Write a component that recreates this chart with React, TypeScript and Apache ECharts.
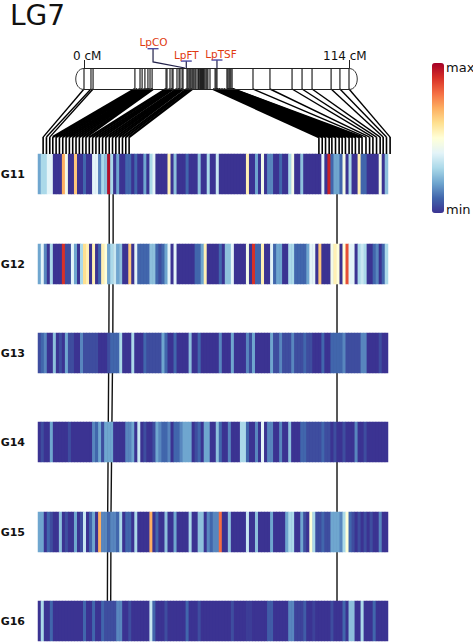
import React, { useEffect, useRef } from "react";
import * as echarts from "echarts";

const rowNames = ["G11", "G12", "G13", "G14", "G15", "G16"];

const g11 = [
  2, 3, 3, 4, 4, 0, 0, 0, 7, 4.5,
  0, 0, 6.5, 0, 0, 1, 0, 0, 4, 4,
  1.5, 3, 2.5, 9.7, 3, 0, 2, 0, 0, 1,
  1, 0, 1, 0, 0, 2, 0, 3, 4, 0,
  0, 0, 0, 5.5, 0, 2.5, 0, 0, 0, 1,
  0, 0, 0, 2.5, 0, 0, 3, 0, 0, 3.5,
  0, 0, 0, 0, 0, 0, 0, 0, 0, 5.5,
  0, 0, 2, 0, 4.5, 0, 1.5, 1.5, 0, 0,
  1, 0, 0, 3, 4.5, 0, 0, 2.5, 0, 0,
  0, 0, 0, 0, 4, 0, 9.3, 1, 2, 2,
  1, 4.5, 0, 3, 0, 0, 5.5, 1, 1, 0,
  0, 0, 0, 4.5, 0, 2.5,
];
const g12 = [
  2, 4, 1.5, 0, 3, 0, 0, 0, 9, 0.5,
  0.5, 4, 2, 0, 3, 6, 5.5, 0, 5.5, 0,
  1, 5.5, 5, 2, 3, 3.5, 2, 2.5, 0, 0,
  6.5, 0, 4, 1, 1, 1, 1, 2.5, 2.5, 1,
  0.5, 1, 2, 4, 0, 4, 0, 0, 0, 0,
  0, 0, 1, 1, 2, 5.5, 0, 0, 0, 0,
  1, 0, 2.5, 2.5, 4, 0, 0, 0, 0, 4.5,
  0, 9, 1, 1, 5.5, 0, 0, 4, 1, 2,
  2, 0, 0, 3, 3, 1, 1, 1, 1, 2,
  4, 4, 0, 6.5, 0, 0, 0, 4.5, 5.5, 5,
  0, 5, 8.5, 4, 4, 0, 3, 3.5, 3, 0,
  0, 1, 1.5, 0, 1, 3,
];
const g13 = [
  0.5, 1, 1.5, 0, 0, 2.5, 0, 0.5, 0, 2,
  0.5, 0.5, 0, 0, 1.5, 0.5, 0.5, 0.5, 0.5, 0.5,
  0, 0, 0, 0.5, 1, 1, 1, 3, 0, 0,
  0, 3, 0, 0, 0, 1, 0.5, 0.5, 0.5, 0.5,
  0.5, 2, 1, 0, 0, 1, 0, 0, 0, 0,
  2.5, 0, 0, 1, 0, 0, 0, 0, 0, 0,
  1.5, 0, 0, 0, 2, 0, 0, 0, 0, 1.5,
  0.5, 2, 0, 0, 0, 0, 0, 2, 0.5, 0.5,
  1.5, 0.5, 0.5, 0.5, 1.5, 0.5, 0.5, 0.5, 1, 0.5,
  0.5, 0, 0, 0, 1, 0, 0, 1, 1, 1,
  1, 1.5, 0.5, 0.5, 0.5, 0.5, 0.5, 1.5, 1.5, 0,
  0, 0, 0, 0.5, 0, 0,
];
const g14 = [
  0, 0.5, 0, 0, 2, 0, 0, 0, 0, 0,
  0.5, 0, 0, 0, 0, 0, 0, 0, 1.5, 1,
  2, 0.5, 2, 2, 2, 0, 0, 0, 0, 1.5,
  1.5, 2, 0, 3.5, 0, 0.5, 0, 0, 0.5, 2,
  1.5, 1, 1, 1.5, 0, 1, 1, 1.5, 2, 2,
  2, 0, 0.5, 1, 0, 2, 2, 0, 0, 2.5,
  1, 0, 0, 1.5, 0, 0, 0, 3, 3, 1,
  0, 0, 1.5, 0, 4, 0, 1.5, 1.5, 0, 0,
  1.5, 0, 0, 2.5, 0, 0, 0, 1, 1, 0.5,
  0.5, 0.5, 0.5, 0.5, 1, 0.5, 0.5, 0, 0.5, 0,
  0, 0.5, 0, 0, 0, 1.5, 0, 0, 0.5, 0,
  0, 0, 0, 0, 0, 0,
];
const g15 = [
  2, 2, 0, 1, 0.5, 0, 0, 2.5, 0, 0.5,
  0, 0, 2, 0, 0.5, 3.5, 0, 1, 2, 0,
  7, 1.5, 1.5, 1, 1.5, 1.5, 1, 3, 0, 1,
  1, 0, 3, 0, 0, 0, 0, 7, 0, 1,
  0, 0, 2.5, 0, 0, 2, 0, 0, 0, 0,
  3, 0, 0, 2.5, 2.5, 0, 1.5, 1, 1.5, 1.5,
  8, 0, 0, 2.5, 0, 0, 0, 0, 0, 3.5,
  0, 0, 2.5, 0, 0, 0, 0, 2, 0, 0,
  0, 0, 2, 3, 3, 0, 0, 2, 0.5, 0,
  5, 3, 0.5, 0.5, 1, 0.5, 0.5, 2, 2, 2,
  1.5, 3, 5, 1, 0.5, 0, 0.5, 0, 0.5, 0,
  0.5, 0, 0, 1.5, 0, 0,
];
const g16 = [
  0, 3, 0, 0, 1, 0, 0, 0, 0, 0,
  0, 0, 0, 0, 0, 1, 0, 0, 1, 0,
  0, 1, 0.5, 0.5, 0.5, 0.5, 1.5, 1.5, 0, 0,
  0.5, 0, 0, 0, 0, 0, 0, 3.5, 1, 0,
  0, 0, 0.5, 0, 0, 0, 0, 0, 0, 1,
  0, 0, 0, 0.5, 0, 0, 0, 0, 0, 0,
  0, 0, 0, 0, 0.5, 0, 0, 0, 0, 0.2,
  0.2, 0, 0, 0, 0, 0, 0.8, 0.8, 0, 0,
  0, 0, 0, 1.5, 1.5, 0.3, 0.3, 0.3, 0.8, 0,
  0, 0.3, 0, 0, 0, 0, 0, 0.5, 0, 0,
  0, 1, 0, 2.5, 2.5, 0, 0, 3, 0, 0,
  0, 1, 0, 0, 0, 0,
];
const rows = [g11, g12, g13, g14, g15, g16];

// marker positions on the linkage group, in cM
const markerCM = [
  0, 3, 3.9, 21.9, 24.1, 25, 26.2, 27.5, 28.4, 29.3, 35.3, 35.7, 37, 37.9, 38.3, 40, 40.9, 41.3,
  42.2, 42.6, 44.3, 44.7, 45.2, 45.6, 46, 46.5, 46.9, 47.3, 47.8, 48.2, 49, 49.3, 49.5, 49.9, 50.1,
  50.3, 50.5, 50.8, 51, 51.2, 51.4, 51.6, 52, 52.5, 52.9, 53.3, 54.2, 56.4, 56.8, 57.2, 61.5, 61.9,
  62.4, 62.8, 63.2, 63.7, 72.7, 80, 89.5, 93.8, 98.1, 106.3, 110.1, 114,
];
// linked markers (cM) and the heat-map column each link lands on
const linkCM = [
  0, 3, 3.9, 21.9, 23, 24.1, 25, 26.2, 27, 27.5, 28, 28.4, 29.3, 29.7, 35.3, 35.7, 37, 37.9, 38.3,
  40, 40.9, 41.3, 42.2, 42.6, 44.3, 45.2, 46.5, 55.5, 56.4, 56.8, 57.2, 58, 59, 60, 61.5, 61.9,
  62.4, 62.8, 63.2, 63.7, 64, 72.7, 80, 89.5, 93.8, 98.1, 106.3, 110.1, 114,
];
const linkColumn = [
  1.7, 2.8, 3.9, 4.9, 6, 7.1, 8.2, 9.3, 10.4, 11.5, 12.6, 13.7, 14.8, 15.9, 17, 18.1, 19.2, 20.3,
  21.4, 22.5, 23.6, 24.7, 25.8, 26.9, 28, 29.1, 30.2, 93.1, 94.2, 95.3, 96.5, 97.4, 98.6, 99.8,
  100.8, 101.9, 103.1, 104.1, 105.2, 106.4, 107.4, 108.7, 109.9, 111, 112.2, 113.4, 114.4, 115.5,
  116.7,
];
// threads running down through the rows (column position at each row)
const traceA = [23.6, 23.6, 23.5, 23.3, 23.1, 23];
const traceB = [24.9, 24.9, 24.8, 24.5, 24.2, 24.1];
const traceC = [99.1, 99.1, 99.1, 99.1, 99.1, 99.1];

const geneNames = ["LpCO", "LpFT", "LpTSF"];
const geneCM = [43.4, 44.3, 57.2];
const geneLabelCM = [29.7, 44.0, 57.2];
const geneHeight = [1.92, 1.33, 1.38];

const colorStops = [
  "#3b3392", "#4166ac", "#6fa6cf", "#abd9e9", "#e4f4f8", "#ffffd8",
  "#fee090", "#fdae61", "#f46d43", "#d73027", "#a50026",
];

const FONT = '"DejaVu Sans"';
const COLS = g11.length;
const columns = g11.map((_, i) => String(i));

const LEFT = 38;
const WIDTH = 350;
const ROW_TOPS = [154, 244, 333, 422, 512, 601];
const ROW_H = 40;
const CH_LEFT = 84;
const CH_WIDTH = 265;
const CH_TOP = 68;
const CH_H = 21;
const LABEL_NUDGE = [0.5, 0, 4];

const cmToColumn = (cm: number) =>
  ((CH_LEFT + (cm / 114) * CH_WIDTH - LEFT) / WIDTH) * COLS;

export default function App() {
  const ref = useRef<HTMLDivElement>(null);
  useEffect(() => {
    document.body.style.margin = "0";
    document.body.style.background = "#fff";
    const chart = echarts.init(ref.current!, undefined, { renderer: "svg" });

    const heatGrids = ROW_TOPS.map((top) => ({
      left: LEFT,
      width: WIDTH,
      top,
      height: ROW_H,
      outerBoundsMode: "none",
      show: true,
      backgroundColor: colorStops[0],
      borderWidth: 0,
    }));
    const option: any = {
      animation: false,
      backgroundColor: "#fff",
      tooltip: { show: false },
      grid: [
        ...heatGrids,
        { left: CH_LEFT, width: CH_WIDTH, top: CH_TOP, height: CH_H, outerBoundsMode: "none" },
        { left: LEFT, width: WIDTH, top: CH_TOP + CH_H, height: ROW_TOPS[0] - CH_TOP - CH_H, outerBoundsMode: "none" },
        { left: LEFT, width: WIDTH, top: ROW_TOPS[0], height: ROW_TOPS[5] - ROW_TOPS[0], outerBoundsMode: "none" },
      ],
      xAxis: [
        ...rowNames.map((_, i) => ({ type: "category", gridIndex: i, data: columns, show: false })),
        { type: "value", gridIndex: 6, min: 0, max: 114, show: false },
        { type: "value", gridIndex: 7, min: 0, max: COLS, show: false },
        { type: "value", gridIndex: 8, min: 0, max: COLS, show: false },
      ],
      yAxis: [
        ...rowNames.map((name, i) => ({
          type: "category",
          gridIndex: i,
          data: [name],
          axisLine: { show: false },
          axisTick: { show: false },
          splitLine: { show: false },
          axisLabel: {
            margin: 13,
            fontFamily: FONT,
            fontSize: 11,
            fontWeight: "bold",
            color: "#111",
          },
        })),
        { type: "value", gridIndex: 6, min: 0, max: 1, show: false },
        { type: "value", gridIndex: 7, min: 0, max: 1, show: false },
        { type: "value", gridIndex: 8, min: 0, max: 5, inverse: true, show: false },
      ],
      visualMap: {
        type: "continuous",
        min: 0,
        max: 10,
        left: 417,
        top: 48,
        itemWidth: 12,
        itemHeight: 150,
        text: null,
        calculable: false,
        hoverLink: false,
        seriesIndex: rowNames.map((_, i) => i),
        inRange: { color: colorStops },
      },
      series: [
        ...rows.map((values, r) => ({
          type: "heatmap",
          xAxisIndex: r,
          yAxisIndex: r,
          z: 2,
          silent: true,
          emphasis: { disabled: true },
          data: values.map((v, c) => [c, 0, v]),
        })),
        ...[traceA, traceB, traceC].map((trace) => ({
          type: "line",
          xAxisIndex: 8,
          yAxisIndex: 8,
          z: 1,
          silent: true,
          showSymbol: false,
          symbol: "none",
          lineStyle: { color: "#111", width: 1.4 },
          data: trace.map((col, r) => [col, r]),
        })),
        {
          type: "custom",
          xAxisIndex: 7,
          yAxisIndex: 7,
          z: 3,
          silent: true,
          clip: false,
          data: linkCM.map((cm, i) => [cm, linkColumn[i]]),
          renderItem: (_: any, api: any) => {
            const cm = api.value(0);
            const a = api.coord([cmToColumn(cm), 1]);
            const b = api.coord([api.value(1), 0.26]);
            const c = api.coord([api.value(1), 0]);
            const dense = cm > 20 && cm < 65;
            return {
              type: "group",
              children: [
                {
                  type: "line",
                  shape: { x1: a[0], y1: a[1], x2: b[0], y2: b[1] },
                  style: { stroke: "#000", lineWidth: dense ? 2.3 : 1.4 },
                },
                {
                  type: "line",
                  shape: { x1: b[0], y1: b[1], x2: c[0], y2: c[1] },
                  style: { stroke: "#000", lineWidth: 1.6 },
                },
              ],
            };
          },
        },
        {
          type: "custom",
          xAxisIndex: 6,
          yAxisIndex: 6,
          z: 4,
          silent: true,
          clip: false,
          data: markerCM.map((cm) => [cm]),
          renderItem: (_: any, api: any) => {
            const a = api.coord([api.value(0), 0]);
            const b = api.coord([api.value(0), 1]);
            return {
              type: "line",
              shape: { x1: a[0], y1: a[1], x2: b[0], y2: b[1] },
              style: { stroke: "#222", lineWidth: 1.2 },
            };
          },
        },
        {
          type: "custom",
          xAxisIndex: 6,
          yAxisIndex: 6,
          z: 5,
          silent: true,
          clip: false,
          data: geneNames.map((_, i) => [geneCM[i], geneLabelCM[i], geneHeight[i]]),
          renderItem: (params: any, api: any) => {
            const base = api.coord([api.value(0), 1]);
            const top = api.coord([api.value(1), api.value(2)]);
            const elbow = api.coord([api.value(1), 1.29]);
            const slanted = params.dataIndex === 0;
            const points = slanted ? [top, elbow, base] : [top, [top[0], base[1]]];
            return {
              type: "group",
              children: [
                {
                  type: "polyline",
                  shape: { points },
                  style: { stroke: "#22224a", lineWidth: 1.2, fill: null },
                },
                {
                  type: "line",
                  shape: { x1: top[0] - 5.5, y1: top[1], x2: top[0] + 5.5, y2: top[1] },
                  style: { stroke: "#4a4aa0", lineWidth: 1.4 },
                },
                {
                  type: "text",
                  style: {
                    text: geneNames[params.dataIndex],
                    x: top[0] + LABEL_NUDGE[params.dataIndex],
                    y: top[1] - 6.2,
                    align: "center",
                    verticalAlign: "middle",
                    fill: "#e03a10",
                    font: `10.5px ${FONT}`,
                  },
                },
              ],
            };
          },
        },
      ],
      graphic: [
        { type: "text", x: 10, y: 15.5, style: { text: "LG7", fill: "#111", font: `28px ${FONT}`, verticalAlign: "middle" } },
        { type: "text", x: 73, y: 55.5, style: { text: "0 cM", fill: "#111", font: `12px ${FONT}`, verticalAlign: "middle" } },
        { type: "text", x: 323, y: 55.5, style: { text: "114 cM", fill: "#111", font: `12px ${FONT}`, verticalAlign: "middle" } },
        { type: "text", x: 446, y: 67, style: { text: "max", fill: "#111", font: `13px ${FONT}`, verticalAlign: "middle" } },
        { type: "text", x: 446, y: 209, style: { text: "min", fill: "#111", font: `13px ${FONT}`, verticalAlign: "middle" } },
        { type: "line", z: 10, shape: { x1: 84.5, y1: 60, x2: 84.5, y2: 68 }, style: { stroke: "#222", lineWidth: 1 } },
        { type: "line", z: 10, shape: { x1: 349.5, y1: 60, x2: 349.5, y2: 68 }, style: { stroke: "#222", lineWidth: 1 } },
        { type: "line", z: 10, shape: { x1: 84, y1: 68.5, x2: 349, y2: 68.5 }, style: { stroke: "#222", lineWidth: 1 } },
        { type: "line", z: 10, shape: { x1: 84, y1: 89.5, x2: 349, y2: 89.5 }, style: { stroke: "#222", lineWidth: 1 } },
        { type: "bezierCurve", z: 10, shape: { x1: 84, y1: 68.5, cpx1: 73, cpy1: 68.5, cpx2: 73, cpy2: 89.5, x2: 84, y2: 89.5 }, style: { stroke: "#333", lineWidth: 1, fill: null } },
        { type: "bezierCurve", z: 10, shape: { x1: 349, y1: 68.5, cpx1: 360, cpy1: 68.5, cpx2: 360, cpy2: 89.5, x2: 349, y2: 89.5 }, style: { stroke: "#333", lineWidth: 1, fill: null } },
      ],
    };
    chart.setOption(option);
    return () => chart.dispose();
  }, []);
  return <div ref={ref} style={{ position: "fixed", left: 0, top: 0, width: 473, height: 642 }} />;
}
